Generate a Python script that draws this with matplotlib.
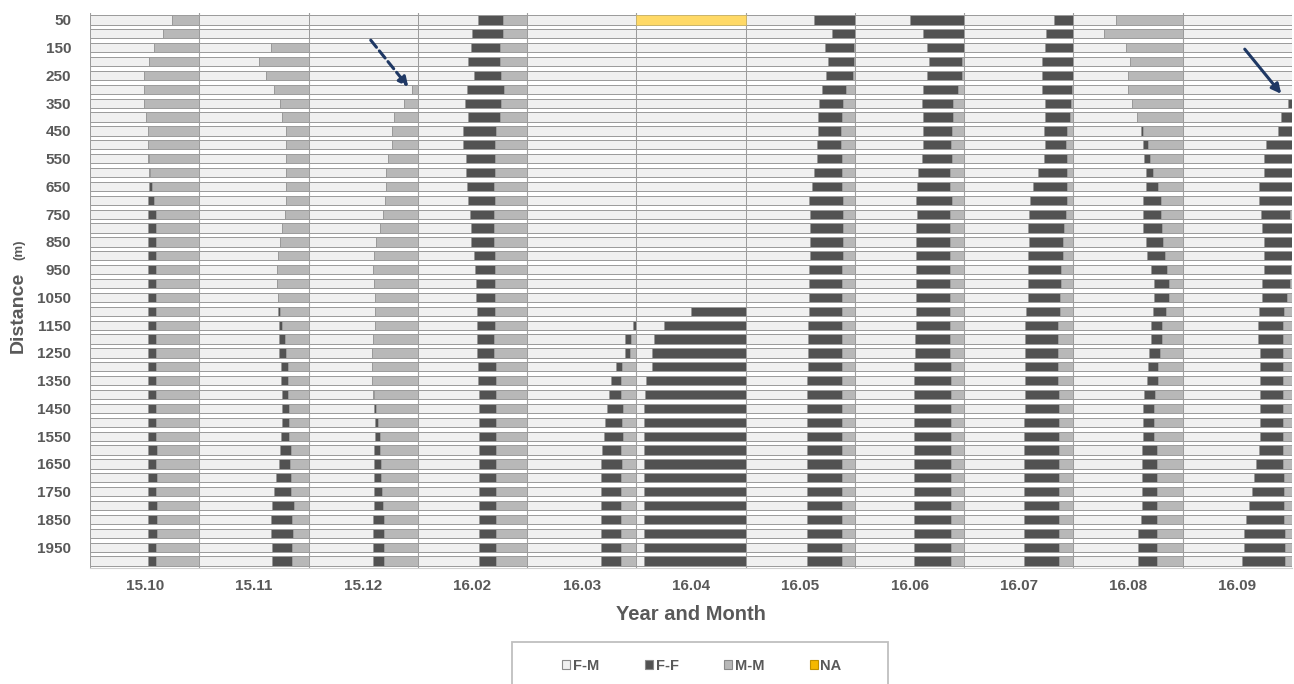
import matplotlib
matplotlib.use("Agg")
import matplotlib.pyplot as plt
import numpy as np
from matplotlib.patches import Patch, Rectangle

plt.rcParams["font.family"] = ["Liberation Sans", "DejaVu Sans"]

months = ["15.10", "15.11", "15.12", "16.02", "16.03", "16.04",
          "16.05", "16.06", "16.07", "16.08", "16.09"]
distances = list(range(50, 2001, 50))
tick_distances = list(range(50, 2000, 100))

# F-M share per month (rows: 50 m ... 2000 m)
FM = [
    [0.75,0.67,0.59,0.54,0.49,0.49,0.49,0.51,0.53,0.53,0.53,0.54,0.54,0.53,0.53,0.53,0.53,0.53,0.53,0.53,
     0.53,0.53,0.53,0.53,0.53,0.53,0.53,0.53,0.53,0.53,0.53,0.53,0.53,0.53,0.53,0.53,0.53,0.53,0.53,0.53],
    [1.00,1.00,0.66,0.55,0.61,0.68,0.74,0.76,0.79,0.79,0.79,0.79,0.79,0.79,0.78,0.76,0.74,0.72,0.71,0.71,
     0.72,0.72,0.73,0.73,0.73,0.75,0.75,0.76,0.76,0.76,0.75,0.74,0.73,0.70,0.68,0.67,0.66,0.66,0.67,0.67],
    [1.00,1.00,1.00,1.00,1.00,0.95,0.87,0.78,0.76,0.76,0.73,0.71,0.71,0.70,0.68,0.65,0.62,0.60,0.59,0.60,
     0.61,0.61,0.61,0.59,0.58,0.58,0.58,0.59,0.60,0.61,0.61,0.60,0.60,0.60,0.60,0.60,0.59,0.59,0.59,0.59],
    [0.55,0.50,0.49,0.46,0.51,0.45,0.43,0.46,0.41,0.41,0.44,0.44,0.45,0.46,0.48,0.49,0.49,0.51,0.52,0.53,
     0.53,0.54,0.54,0.54,0.54,0.55,0.55,0.56,0.56,0.56,0.56,0.56,0.56,0.56,0.56,0.56,0.56,0.56,0.56,0.56],
    [1.00,1.00,1.00,1.00,1.00,1.00,1.00,1.00,1.00,1.00,1.00,1.00,1.00,1.00,1.00,1.00,1.00,1.00,1.00,1.00,
     1.00,1.00,0.97,0.90,0.90,0.81,0.77,0.75,0.73,0.71,0.70,0.69,0.68,0.68,0.68,0.68,0.68,0.68,0.68,0.68],
    [0.00,1.00,1.00,1.00,1.00,1.00,1.00,1.00,1.00,1.00,1.00,1.00,1.00,1.00,1.00,1.00,1.00,1.00,1.00,1.00,
     1.00,0.50,0.25,0.16,0.14,0.14,0.09,0.08,0.07,0.07,0.07,0.07,0.07,0.07,0.07,0.07,0.07,0.07,0.07,0.07],
    [0.63,0.79,0.73,0.75,0.74,0.70,0.67,0.66,0.66,0.65,0.65,0.63,0.61,0.58,0.59,0.59,0.59,0.59,0.58,0.58,
     0.58,0.58,0.57,0.57,0.57,0.57,0.56,0.56,0.56,0.56,0.56,0.56,0.56,0.56,0.56,0.56,0.56,0.56,0.56,0.56],
    [0.50,0.62,0.66,0.68,0.66,0.62,0.61,0.62,0.62,0.62,0.61,0.58,0.57,0.56,0.57,0.56,0.56,0.56,0.56,0.56,
     0.56,0.56,0.56,0.55,0.55,0.54,0.54,0.54,0.54,0.54,0.54,0.54,0.54,0.54,0.54,0.54,0.54,0.54,0.54,0.54],
    [0.82,0.75,0.74,0.71,0.71,0.71,0.74,0.74,0.73,0.74,0.73,0.68,0.63,0.60,0.59,0.58,0.59,0.58,0.58,0.58,
     0.58,0.57,0.56,0.56,0.56,0.56,0.56,0.56,0.56,0.55,0.55,0.55,0.55,0.55,0.55,0.55,0.55,0.55,0.55,0.55],
    [0.39,0.28,0.48,0.52,0.50,0.50,0.54,0.58,0.62,0.64,0.65,0.66,0.66,0.64,0.64,0.64,0.66,0.67,0.71,0.74,
     0.74,0.73,0.71,0.71,0.69,0.68,0.67,0.65,0.64,0.64,0.64,0.63,0.63,0.63,0.63,0.63,0.62,0.59,0.59,0.59],
    [1.00,1.00,1.00,1.00,1.00,1.00,0.96,0.90,0.87,0.76,0.74,0.74,0.70,0.70,0.72,0.73,0.74,0.74,0.74,0.73,
     0.73,0.70,0.69,0.69,0.71,0.71,0.71,0.71,0.71,0.71,0.71,0.70,0.67,0.65,0.63,0.61,0.58,0.56,0.56,0.54],
]

# F-F share per month
FF = [
    [0.00,0.00,0.00,0.00,0.00,0.00,0.00,0.00,0.00,0.00,0.01,0.01,0.03,0.06,0.07,0.07,0.07,0.07,0.07,0.07,
     0.07,0.07,0.07,0.07,0.07,0.07,0.07,0.07,0.07,0.07,0.07,0.08,0.07,0.08,0.07,0.08,0.08,0.08,0.07,0.07],
    [0.00,0.00,0.00,0.00,0.00,0.00,0.00,0.00,0.00,0.00,0.00,0.00,0.00,0.00,0.00,0.00,0.00,0.00,0.00,0.00,
     0.00,0.02,0.03,0.05,0.06,0.06,0.06,0.05,0.06,0.06,0.07,0.10,0.10,0.14,0.16,0.20,0.19,0.20,0.18,0.18],
    [0.00,0.00,0.00,0.00,0.00,0.00,0.00,0.00,0.00,0.00,0.00,0.00,0.00,0.00,0.00,0.00,0.00,0.00,0.00,0.00,
     0.00,0.00,0.00,0.00,0.00,0.00,0.00,0.01,0.02,0.03,0.04,0.05,0.06,0.06,0.07,0.08,0.10,0.10,0.10,0.10],
    [0.23,0.28,0.26,0.29,0.25,0.34,0.33,0.29,0.31,0.30,0.27,0.27,0.25,0.25,0.22,0.21,0.21,0.20,0.19,0.18,
     0.18,0.17,0.17,0.16,0.16,0.17,0.17,0.16,0.16,0.16,0.16,0.16,0.16,0.16,0.16,0.16,0.16,0.16,0.16,0.16],
    [0.00,0.00,0.00,0.00,0.00,0.00,0.00,0.00,0.00,0.00,0.00,0.00,0.00,0.00,0.00,0.00,0.00,0.00,0.00,0.00,
     0.00,0.00,0.03,0.05,0.04,0.06,0.09,0.11,0.15,0.16,0.18,0.17,0.19,0.18,0.18,0.18,0.18,0.18,0.18,0.18],
    [0.00,0.00,0.00,0.00,0.00,0.00,0.00,0.00,0.00,0.00,0.00,0.00,0.00,0.00,0.00,0.00,0.00,0.00,0.00,0.00,
     0.00,0.50,0.75,0.84,0.86,0.86,0.91,0.92,0.93,0.93,0.93,0.93,0.93,0.93,0.93,0.93,0.93,0.93,0.93,0.93],
    [0.37,0.21,0.26,0.24,0.24,0.22,0.22,0.22,0.21,0.22,0.23,0.25,0.27,0.31,0.30,0.30,0.30,0.30,0.30,0.30,
     0.30,0.30,0.31,0.31,0.31,0.31,0.32,0.32,0.32,0.32,0.32,0.32,0.32,0.32,0.32,0.32,0.32,0.32,0.32,0.32],
    [0.50,0.38,0.34,0.30,0.32,0.32,0.29,0.28,0.27,0.26,0.28,0.29,0.30,0.33,0.30,0.31,0.31,0.31,0.31,0.31,
     0.31,0.31,0.31,0.32,0.32,0.34,0.34,0.34,0.34,0.34,0.34,0.34,0.34,0.34,0.34,0.34,0.34,0.34,0.34,0.34],
    [0.18,0.25,0.26,0.29,0.29,0.28,0.24,0.23,0.21,0.19,0.21,0.26,0.31,0.34,0.34,0.33,0.31,0.32,0.31,0.31,
     0.30,0.31,0.30,0.30,0.30,0.30,0.30,0.31,0.31,0.32,0.32,0.32,0.32,0.32,0.32,0.32,0.32,0.32,0.32,0.32],
    [0.00,0.00,0.00,0.00,0.00,0.00,0.00,0.00,0.02,0.04,0.05,0.07,0.11,0.16,0.16,0.17,0.16,0.17,0.15,0.13,
     0.13,0.12,0.10,0.10,0.10,0.09,0.10,0.10,0.10,0.10,0.10,0.13,0.13,0.13,0.13,0.13,0.14,0.17,0.17,0.17],
    [0.00,0.00,0.00,0.00,0.00,0.00,0.04,0.10,0.13,0.24,0.26,0.26,0.30,0.30,0.26,0.27,0.26,0.26,0.25,0.25,
     0.22,0.23,0.23,0.23,0.21,0.21,0.21,0.21,0.21,0.21,0.21,0.22,0.25,0.28,0.30,0.32,0.35,0.38,0.38,0.40],
]

# M-M share per month
MM = [
    [0.25,0.33,0.41,0.46,0.51,0.51,0.51,0.49,0.47,0.47,0.46,0.45,0.43,0.41,0.40,0.40,0.40,0.40,0.40,0.40,
     0.40,0.40,0.40,0.40,0.40,0.40,0.40,0.40,0.40,0.40,0.40,0.39,0.40,0.39,0.40,0.39,0.39,0.39,0.40,0.40],
    [0.00,0.00,0.34,0.45,0.39,0.32,0.26,0.24,0.21,0.21,0.21,0.21,0.21,0.21,0.22,0.24,0.26,0.28,0.29,0.29,
     0.28,0.26,0.24,0.22,0.21,0.19,0.19,0.19,0.18,0.18,0.18,0.16,0.17,0.16,0.16,0.13,0.15,0.14,0.15,0.15],
    [0.00,0.00,0.00,0.00,0.00,0.05,0.13,0.22,0.24,0.24,0.27,0.29,0.29,0.30,0.32,0.35,0.38,0.40,0.41,0.40,
     0.39,0.39,0.39,0.41,0.42,0.42,0.42,0.40,0.38,0.36,0.35,0.35,0.34,0.34,0.33,0.32,0.31,0.31,0.31,0.31],
    [0.22,0.22,0.25,0.25,0.24,0.21,0.24,0.25,0.28,0.29,0.29,0.29,0.30,0.29,0.30,0.30,0.30,0.29,0.29,0.29,
     0.29,0.29,0.29,0.30,0.30,0.28,0.28,0.28,0.28,0.28,0.28,0.28,0.28,0.28,0.28,0.28,0.28,0.28,0.28,0.28],
    [0.00,0.00,0.00,0.00,0.00,0.00,0.00,0.00,0.00,0.00,0.00,0.00,0.00,0.00,0.00,0.00,0.00,0.00,0.00,0.00,
     0.00,0.00,0.00,0.05,0.06,0.13,0.14,0.14,0.12,0.13,0.12,0.14,0.13,0.14,0.14,0.14,0.14,0.14,0.14,0.14],
    [0.00,0.00,0.00,0.00,0.00,0.00,0.00,0.00,0.00,0.00,0.00,0.00,0.00,0.00,0.00,0.00,0.00,0.00,0.00,0.00,
     0.00,0.00,0.00,0.00,0.00,0.00,0.00,0.00,0.00,0.00,0.00,0.00,0.00,0.00,0.00,0.00,0.00,0.00,0.00,0.00],
    [0.00,0.00,0.01,0.01,0.02,0.08,0.11,0.12,0.13,0.13,0.12,0.12,0.12,0.11,0.11,0.11,0.11,0.11,0.12,0.12,
     0.12,0.12,0.12,0.12,0.12,0.12,0.12,0.12,0.12,0.12,0.12,0.12,0.12,0.12,0.12,0.12,0.12,0.12,0.12,0.12],
    [0.00,0.00,0.00,0.02,0.02,0.06,0.10,0.10,0.11,0.12,0.11,0.13,0.13,0.11,0.13,0.13,0.13,0.13,0.13,0.13,
     0.13,0.13,0.13,0.13,0.13,0.12,0.12,0.12,0.12,0.12,0.12,0.12,0.12,0.12,0.12,0.12,0.12,0.12,0.12,0.12],
    [0.00,0.00,0.00,0.00,0.00,0.01,0.02,0.03,0.06,0.07,0.06,0.06,0.06,0.06,0.07,0.09,0.10,0.10,0.11,0.11,
     0.12,0.12,0.14,0.14,0.14,0.14,0.14,0.13,0.13,0.13,0.13,0.13,0.13,0.13,0.13,0.13,0.13,0.13,0.13,0.13],
    [0.61,0.72,0.52,0.48,0.50,0.50,0.46,0.42,0.36,0.32,0.30,0.27,0.23,0.20,0.20,0.19,0.18,0.16,0.14,0.13,
     0.13,0.15,0.19,0.19,0.21,0.23,0.23,0.25,0.26,0.26,0.26,0.24,0.24,0.24,0.24,0.24,0.24,0.24,0.24,0.24],
    [0.00,0.00,0.00,0.00,0.00,0.00,0.00,0.00,0.00,0.00,0.00,0.00,0.00,0.00,0.02,0.00,0.00,0.00,0.01,0.02,
     0.05,0.07,0.08,0.08,0.08,0.08,0.08,0.08,0.08,0.08,0.08,0.08,0.08,0.07,0.07,0.07,0.07,0.06,0.06,0.06],
]

# NA share (only 16.04 at 50 m)
NA_month = "16.04"
NA_distance = 50
NA_value = 1.0

series_names = ["F-M", "F-F", "M-M", "NA"]
colors = {"F-M": "#f0f0f0", "F-F": "#525252", "M-M": "#b8b8b8", "NA": "#ffd966"}
edge = "#9a9a9a"
text_col = "#595959"

fig = plt.figure(figsize=(12.94, 6.84), dpi=100)
W, H = 1294, 684
ax = fig.add_axes([90 / W, 1 - 568 / H, 1202 / W, 555 / H])

rows = np.arange(len(distances))
bar_h = 0.66
for c, m in enumerate(months):
    left = np.full(len(distances), float(c))
    for name, data in (("F-M", FM), ("F-F", FF), ("M-M", MM)):
        vals = np.array(data[c], dtype=float)
        ax.barh(rows, vals, left=left, height=bar_h, color=colors[name],
                edgecolor=edge, linewidth=0.7, zorder=2)
        left = left + vals
    if m == NA_month:
        r = distances.index(NA_distance)
        ax.barh([rows[r]], [NA_value], left=[c], height=bar_h, color=colors["NA"],
                edgecolor="#c9b46a", linewidth=0.7, zorder=3)

ax.set_xlim(0, len(months))
ax.set_ylim(len(distances) - 0.5, -0.5)
ax.set_xticks(np.arange(len(months)) + 0.5)
ax.set_xticklabels(months, fontsize=11, fontweight="bold", color=text_col)
ax.set_xticks(np.arange(len(months) + 1), minor=True)
ax.grid(which="minor", axis="x", color="#a0a0a0", linewidth=0.8, zorder=1)
ax.set_yticks([distances.index(d) for d in tick_distances])
ax.set_yticklabels([str(d) for d in tick_distances], fontsize=11,
                   fontweight="bold", color=text_col)
ax.tick_params(axis="both", which="both", length=0)
ax.tick_params(axis="y", pad=13.5)
ax.tick_params(axis="x", pad=8)
for s in ax.spines.values():
    s.set_visible(False)
ax.spines["bottom"].set_visible(True)
ax.spines["bottom"].set_color("#d0d0d0")

fig.text(691 / W, 1 - 615 / H, "Year and Month", ha="center", va="center",
         fontsize=14.5, fontweight="bold", color=text_col)
fig.text(18 / W, 1 - 312 / H, "Distance", rotation=90, ha="center", va="center",
         fontsize=14, fontweight="bold", color=text_col)
fig.text(19 / W, 1 - 250 / H, "(m)", rotation=90, ha="center", va="center",
         fontsize=9.5, fontweight="bold", color=text_col)

# legend box (runs off the bottom edge like the reference)
box_top = 1 - 642 / H
fig.patches.append(Rectangle((512 / W, -0.03), 376 / W, box_top + 0.03,
                             transform=fig.transFigure, facecolor="white",
                             edgecolor="#bfbfbf", linewidth=1.3, zorder=0))
handles = [Patch(facecolor=colors[n], edgecolor="#8a8a8a", linewidth=0.8, label=n)
           for n in series_names]
handles[3].set_facecolor("#f5b800")
handles[3].set_edgecolor("#c09000")
leg = fig.legend(handles=handles, loc="center", ncol=4,
                 bbox_to_anchor=(702 / W, 1 - 666 / H), frameon=False,
                 handlelength=0.55, handleheight=0.55, handletextpad=0.2,
                 columnspacing=3.1, prop={"size": 10.5, "weight": "bold"})
for t in leg.get_texts():
    t.set_color(text_col)

# arrows
ax.annotate("", xy=(410, H - 89), xytext=(369, H - 38), xycoords="figure pixels",
            textcoords="figure pixels",
            arrowprops=dict(arrowstyle="-|>", color="#1f3864", lw=2.2,
                            linestyle=(0, (3, 1.5)), mutation_scale=14))
ax.annotate("", xy=(1283, H - 96), xytext=(1243, H - 47), xycoords="figure pixels",
            textcoords="figure pixels",
            arrowprops=dict(arrowstyle="-|>", color="#1f3864", lw=2.2, mutation_scale=14))

fig.savefig("out.png", dpi=100)
